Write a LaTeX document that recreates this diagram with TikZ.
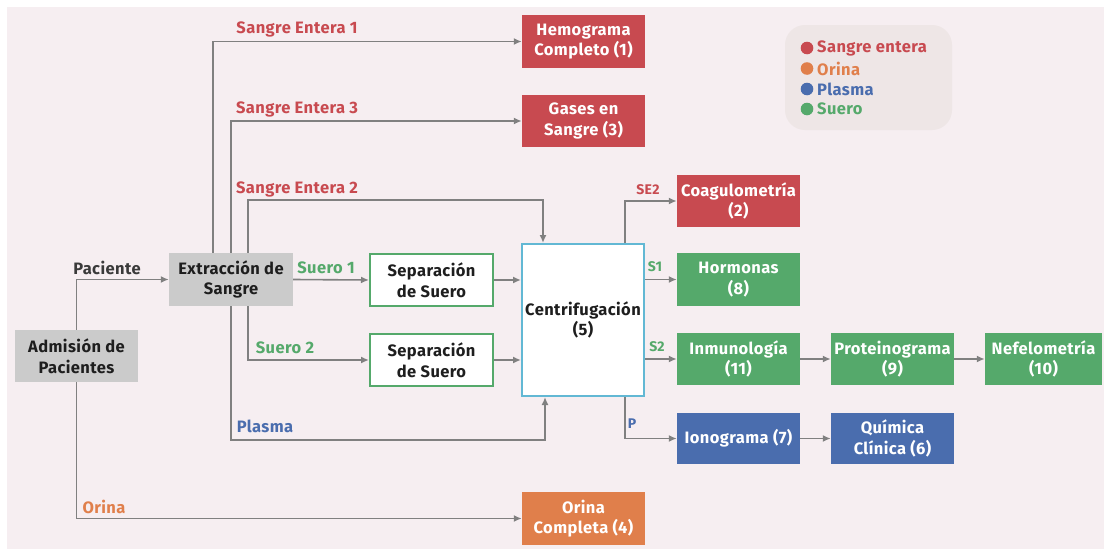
\documentclass[tikz,border=0pt]{standalone}
\usepackage{fontspec}
\setmainfont{Fira Sans}[LetterSpace=2.5]
\usetikzlibrary{arrows.meta}
\definecolor{bgpink}{HTML}{F6EEF1}
\definecolor{cred}{HTML}{C84A50}
\definecolor{cgreen}{HTML}{55A96B}
\definecolor{cblue}{HTML}{4A6DAE}
\definecolor{corange}{HTML}{E07F4B}
\definecolor{ccyan}{HTML}{62B8D4}
\definecolor{cgraybox}{HTML}{CBCBCB}
\definecolor{clegend}{HTML}{EEE6E6}
\definecolor{cline}{HTML}{808080}
\definecolor{cdark}{HTML}{1E1E1E}
\definecolor{clabel}{HTML}{3A3A3A}
\tikzset{
  box/.style={minimum width=123pt, minimum height=52pt, inner sep=0pt, align=center,
    font=\fontsize{16.5}{20.5}\selectfont\bfseries},
  redbox/.style={box, fill=cred, text=white},
  greenbox/.style={box, fill=cgreen, text=white},
  bluebox/.style={box, fill=cblue, text=white},
  orangebox/.style={box, fill=corange, text=white},
  graybox/.style={box, fill=cgraybox, text=cdark},
  sepbox/.style={box, fill=white, draw=cgreen, line width=2pt, minimum width=123pt, minimum height=52pt, text=cdark},
  conn/.style={draw=cline, line width=1.6pt, -{Latex[length=8pt,width=7pt]}},
  lbl/.style={font=\fontsize{16.5}{20}\selectfont\bfseries, inner sep=0pt},
  slbl/.style={font=\fontsize{14}{16}\selectfont\bfseries, inner sep=0pt},
}
\begin{document}
\begin{tikzpicture}[x=1pt, y=-1pt]
  % page and backdrop
  \fill[white] (0,0) rectangle (1104,549);
  \fill[bgpink] (7,7) rectangle (1104,549);
  \useasboundingbox (0,0) rectangle (1104,549);

  % legend
  \fill[clegend, rounded corners=20pt] (785,25) rectangle (952,130);
  \foreach \yy/\cc/\tt in {48/cred/Sangre entera, 68.5/corange/Orina, 89/cblue/Plasma, 109/cgreen/Suero}{
    \fill[\cc] (807,\yy) circle (6.3pt);
    \node[lbl, anchor=west, text=\cc] (leg-\tt) at (817,\yy) {\tt};
  }

  % boxes
  \node[graybox] (adm) at (76.5,356) {Admisión de\\Pacientes};
  \node[graybox, minimum width=124pt, minimum height=53pt] (ext) at (231,279.5) {Extracción de\\Sangre};
  \node[redbox, minimum height=53pt] (hem) at (583.5,41.5) {Hemograma\\Completo (1)};
  \node[redbox] (gas) at (583.5,121) {Gases en\\Sangre (3)};
  \node[sepbox] (sep1) at (431.5,280) {Separación\\de Suero};
  \node[sepbox] (sep2) at (431.5,360) {Separación\\de Suero};
  \node[box, fill=white, draw=ccyan, line width=2pt, minimum width=122pt, minimum height=152pt, text=cdark] (cent) at (583,320) {Centrifugación\\(5)};
  \node[redbox] (coag) at (738.5,201) {Coagulometría\\(2)};
  \node[greenbox, minimum height=53pt] (horm) at (738.5,279.5) {Hormonas\\(8)};
  \node[greenbox] (inmu) at (738.5,359) {Inmunología\\(11)};
  \node[greenbox] (prot) at (892.5,359) {Proteinograma\\(9)};
  \node[greenbox, minimum width=117pt] (nef) at (1043.5,359) {Nefelometría\\(10)};
  \node[bluebox, minimum height=51pt] (iono) at (738.5,438.5) {Ionograma (7)};
  \node[bluebox, minimum height=51pt] (quim) at (892.5,438.5) {Química\\Clínica (6)};
  \node[orangebox, minimum height=53pt] (orin) at (583.5,518.5) {Orina\\Completa (4)};

  % bend points
  \coordinate (se2bend) at (543,200);
  \coordinate (plbend) at (545,440);

  % connectors
  \draw[conn] (adm.north) |- (ext.west);
  \draw[conn] (adm.south) |- (orin.west);
  \draw[conn] ([xshift=-18pt]ext.north) |- (hem.west);
  \draw[conn] (ext.north) |- (gas.west);
  \draw[conn] ([xshift=17pt]ext.north) |- (se2bend) -- (se2bend |- cent.north);
  \draw[conn] (ext.east) -- (sep1.west);
  \draw[conn] ([xshift=17pt]ext.south) |- (sep2.west);
  \draw[conn] (ext.south) |- (plbend) -- (plbend |- cent.south);
  \draw[conn] (sep1.east) -- (sep1.east -| cent.west);
  \draw[conn] (sep2.east) -- (sep2.east -| cent.west);
  \draw[conn] ([xshift=42pt]cent.north) |- (coag.west);
  \draw[conn] (cent.east |- horm.west) -- (horm.west);
  \draw[conn] (cent.east |- inmu.west) -- (inmu.west);
  \draw[conn] ([xshift=42pt]cent.south) |- (iono.west);
  \draw[conn] (inmu.east) -- (prot.west);
  \draw[conn] (prot.east) -- (nef.west);
  \draw[conn] (iono.east) -- (quim.west);

  % connector labels
  \node[lbl, text=clabel] (l-pac) at (107,268) {Paciente};
  \node[lbl, text=cred] (l-se1) at (297,29) {Sangre Entera 1};
  \node[lbl, text=cred] (l-se3) at (297,109) {Sangre Entera 3};
  \node[lbl, text=cred] (l-se2) at (297,189) {Sangre Entera 2};
  \node[lbl, text=cgreen] (l-s1) at (326,268) {Suero 1};
  \node[lbl, text=cgreen] (l-s2) at (285,348) {Suero 2};
  \node[lbl, text=cblue] (l-pl) at (265,426) {Plasma};
  \node[lbl, text=corange] (l-or) at (104,507) {Orina};
  \node[slbl, text=cred] (l-se2b) at (648,190) {SE2};
  \node[slbl, text=cgreen] (l-s1b) at (655,267) {S1};
  \node[slbl, text=cgreen] (l-s2b) at (657,347) {S2};
  \node[slbl, text=cblue] (l-p) at (632,424) {P};
\end{tikzpicture}
\end{document}
